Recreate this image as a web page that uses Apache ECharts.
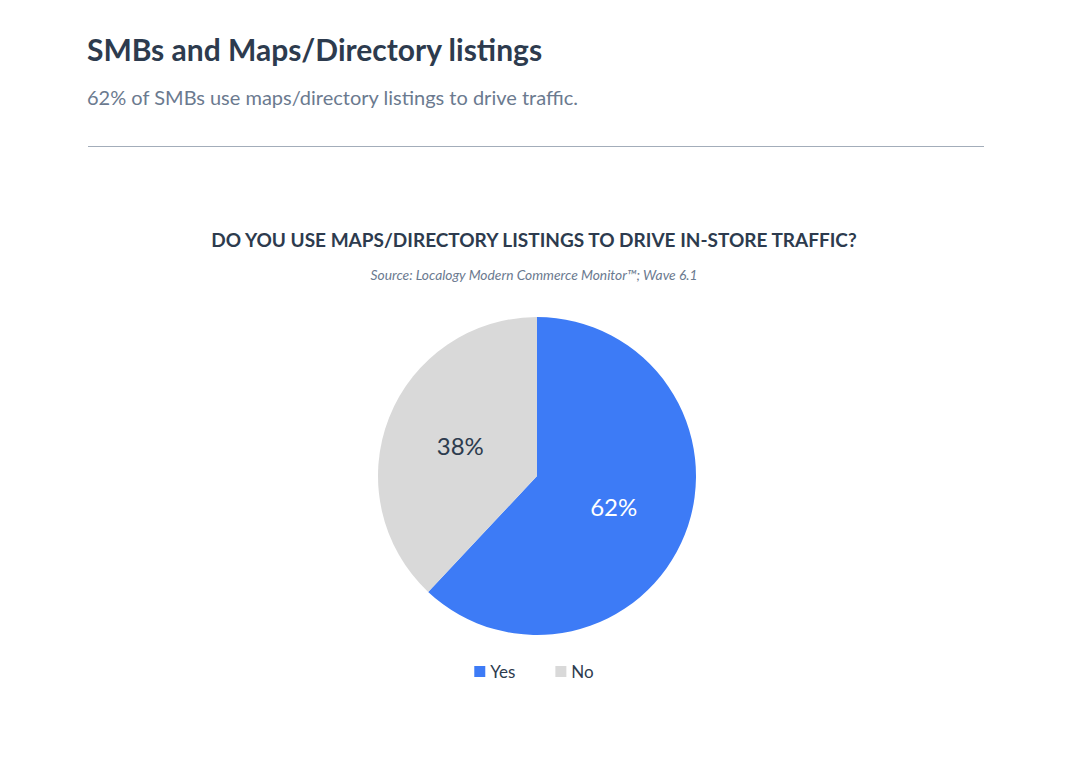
<!DOCTYPE html>
<html>
<head>
<meta charset="utf-8">
<script src="https://cdn.jsdelivr.net/npm/echarts@6/dist/echarts.min.js"></script>
<style>
    html, body { margin: 0; padding: 0; background: #fff; }
    #chart { width: 1068px; height: 766px; }
</style>
</head>
<body>
<div id="chart"></div>
<script>
    // data
    var categories = ['Yes', 'No'];
    var shares = [62, 38];
    var colors = ['#3d7bf6', '#d9d9d9'];
    var labelColors = ['#ffffff', '#2d3b4e'];

    var font = 'Lato, "Noto Sans", sans-serif';
    var myChart = echarts.init(document.getElementById('chart'), null, { renderer: 'svg' });

    var pieData = categories.map(function (name, i) {
        return {
            name: name,
            value: shares[i],
            itemStyle: { color: colors[i] },
            label: { color: labelColors[i] }
        };
    });

    var option = {
        backgroundColor: '#fff',
        animation: false,
        title: [
            {
                text: 'SMBs and Maps/Directory listings',
                left: 82, top: 29,
                textStyle: { fontFamily: font, fontSize: 30, fontWeight: 'bold', color: '#2d3b4e' }
            },
            {
                text: '62% of SMBs use maps/directory listings to drive traffic.',
                left: 82, top: 82,
                textStyle: { fontFamily: font, fontSize: 20, fontWeight: 'normal', color: '#6b7a8f' }
            },
            {
                text: 'DO YOU USE MAPS/DIRECTORY LISTINGS TO DRIVE IN-STORE TRAFFIC?',
                left: 'center', top: 225,
                textStyle: { fontFamily: font, fontSize: 19, fontWeight: 'bold', color: '#2d3b4e' }
            },
            {
                text: 'Source: Localogy Modern Commerce Monitor\u2122; Wave 6.1',
                left: 'center', top: 262,
                textStyle: { fontFamily: font, fontSize: 13.8, fontStyle: 'italic', fontWeight: 'normal', color: '#6b7a8f' }
            }
        ],
        graphic: [
            {
                type: 'line',
                shape: { x1: 88, y1: 146.5, x2: 984, y2: 146.5 },
                style: { stroke: '#a3adba', lineWidth: 1 }
            }
        ],
        legend: {
            data: categories,
            bottom: 81,
            left: 'center',
            icon: 'rect',
            itemWidth: 11,
            itemHeight: 11,
            itemGap: 40,
            textStyle: { fontFamily: font, fontSize: 17, color: '#2d3b4e' }
        },
        series: [
            {
                name: 'Maps/Directory listings',
                type: 'pie',
                center: [537, 476],
                radius: [0, 159],
                startAngle: 90,
                clockwise: true,
                silent: true,
                label: {
                    show: true,
                    position: 'inside',
                    formatter: '{c}%',
                    fontFamily: font,
                    fontSize: 24
                },
                labelLine: { show: false },
                data: pieData
            }
        ]
    };
    option && myChart.setOption(option);
</script>
</body>
</html>
